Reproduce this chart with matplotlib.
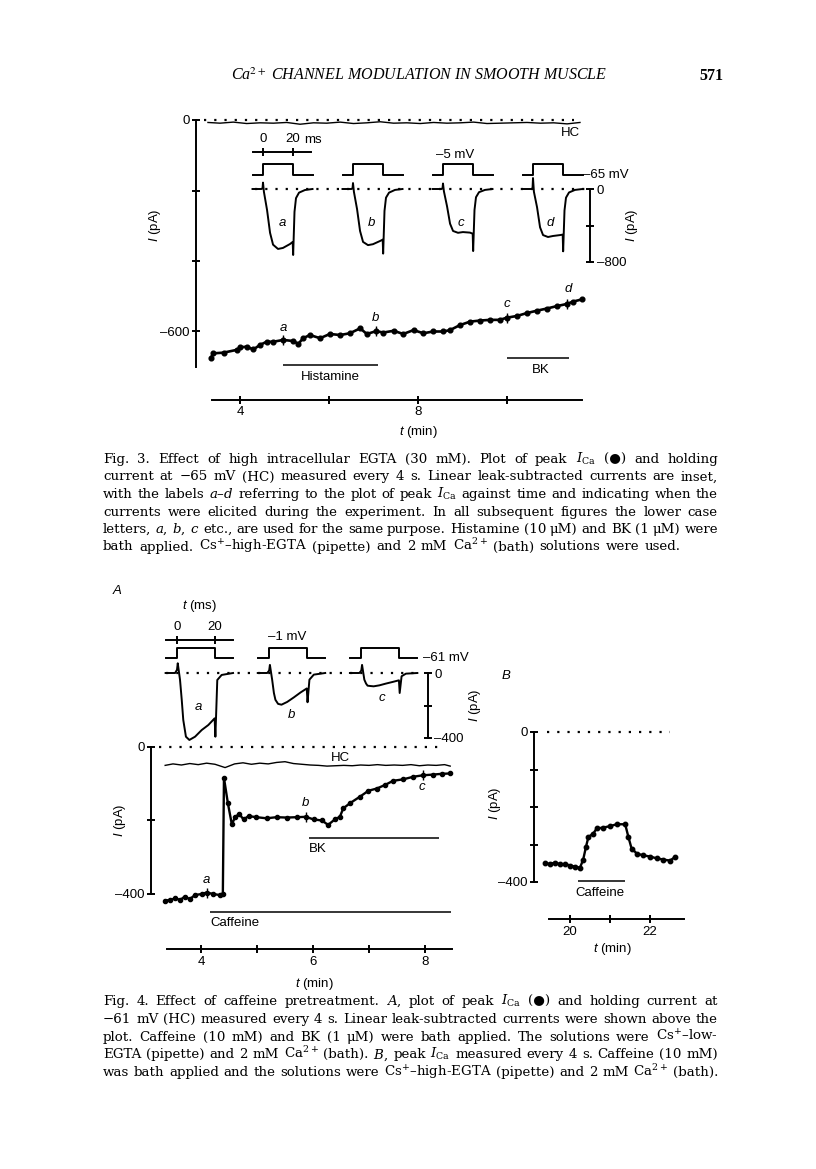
import matplotlib
matplotlib.use("Agg")
import matplotlib.pyplot as plt

W, H = 816, 1169
plt.rcParams['font.family'] = ['Liberation Sans', 'DejaVu Sans']
plt.rcParams['mathtext.fontset'] = 'custom'
plt.rcParams['mathtext.rm'] = 'Liberation Sans'
plt.rcParams['mathtext.it'] = 'Liberation Sans:italic'
plt.rcParams['mathtext.bf'] = 'Liberation Sans:bold'

# ---------------- Fig. 3 data ----------------
# peak I_Ca (pA) against time (min)
f3_t = [3.34, 3.40, 3.63, 3.93, 4.00, 4.15, 4.30, 4.45, 4.60, 4.75, 4.97, 5.20, 5.31, 5.42, 5.57,
        5.80, 6.02, 6.25, 6.47, 6.70, 6.85, 7.06, 7.22, 7.45, 7.67, 7.90, 8.12, 8.34, 8.57, 8.72,
        8.94, 9.17, 9.39, 9.62, 9.84, 9.99, 10.22, 10.44, 10.67, 10.89, 11.12, 11.34, 11.49, 11.68]
f3_ica = [-676, -662, -660, -652, -645, -643, -651, -638, -629, -629, -624, -627, -635, -619, -610,
          -619, -607, -610, -605, -591, -607, -599, -603, -598, -607, -596, -605, -600, -600, -596,
          -582, -572, -569, -567, -567, -561, -556, -548, -541, -535, -528, -522, -515, -509]
f3_letter_idx = [10, 21, 35, 41]
f3_letters = ['a', 'b', 'c', 'd']
# holding current at -65 mV
f3_hc_t = [3.28, 3.55, 3.85, 4.15, 4.45, 4.75, 5.05, 5.35, 5.65, 5.95, 6.25, 6.55, 6.85, 7.15, 7.45,
           7.75, 8.05, 8.35, 8.65, 8.95, 9.25, 9.55, 9.85, 10.15, 10.45, 10.75, 11.05, 11.35, 11.64]
f3_hc = [-7, -9, -6, -10, -8, -9, -7, -12, -8, -9, -6, -10, -8, -5, -9,
         -8, -10, -7, -9, -8, -6, -10, -9, -8, -7, -9, -8, -11, -7]
f3_histamine = (4.97, 7.10)
f3_bk = (10.0, 11.40)

# inset current traces (ms, pA)
f3_ms = [-7, -1, -0.3, 0, 0.6, 2.7, 4.7, 6.7, 10, 13.3, 18, 19.8, 20.1, 21, 22, 24, 28, 33]
f3_trace = {
    'a': [0, 0, 10, 70, -30, -230, -480, -610, -657, -646, -603, -580, -723, -250, -100, -40, -11, 0],
    'b': [0, 0, 10, 65, -30, -220, -460, -580, -615, -605, -570, -555, -708, -240, -95, -40, -10, 0],
    'c': [0, 0, 10, 60, -25, -190, -380, -460, -480, -472, -478, -490, -680, -230, -90, -35, -10, 0],
    'd': [0, 0, 10, 120, -30, -200, -420, -505, -526, -515, -505, -500, -683, -235, -95, -38, -10, 0],
}
f3_offsets = [0, 60, 120, 180]
f3_step_ms = [-7, 0, 0, 20, 20, 33]
f3_step_mv = [-65, -65, -5, -5, -65, -65]

# ---------------- Fig. 4A data ----------------
f4_t = [3.36, 3.45, 3.54, 3.63, 3.71, 3.80, 3.89, 4.01, 4.10, 4.22, 4.34, 4.39, 4.41, 4.48, 4.55,
        4.61, 4.68, 4.76, 4.85, 4.99, 5.17, 5.35, 5.53, 5.71, 5.87, 6.01, 6.16, 6.27, 6.39, 6.48,
        6.54, 6.66, 6.84, 6.99, 7.14, 7.29, 7.43, 7.61, 7.79, 7.96, 8.15, 8.30, 8.45]
f4_ica = [-418, -416, -412, -416, -407, -414, -403, -400, -396, -400, -403, -400, -84, -153, -210,
          -191, -182, -197, -188, -191, -194, -191, -192, -191, -190, -197, -200, -212, -197, -190,
          -167, -153, -135, -119, -113, -103, -92, -88, -81, -77, -75, -73, -72]
f4_letter_idx = [8, 24, 39]
f4_letters = ['a', 'b', 'c']
f4_hc_t = [3.36, 3.5, 3.65, 3.8, 3.95, 4.1, 4.25, 4.43, 4.6, 4.75, 4.9, 5.05, 5.2, 5.35, 5.5,
           5.65, 5.8, 5.95, 6.1, 6.25, 6.4, 6.55, 6.7, 6.85, 7.0, 7.15, 7.3, 7.45, 7.6, 7.75,
           7.9, 8.05, 8.2, 8.35, 8.45]
f4_hc = [-50, -46, -49, -45, -48, -44, -47, -56, -46, -43, -47, -44, -46, -42, -40,
         -45, -47, -49, -50, -52, -51, -50, -51, -49, -50, -48, -50, -49, -50, -48,
         -51, -49, -50, -48, -52]
f4_caffeine = (4.16, 8.46)
f4_bk = (5.93, 8.25)

f4_ms = [-6, -1, 0, 0.4, 1.6, 2.5, 3.3, 4.7, 6.5, 9.5, 13, 16.5, 19.8, 20.2, 21.2, 23.5, 29.5]
f4_trace = {
    'a': [0, 0, 20, 60, -43, -166, -289, -392, -412, -392, -351, -320, -279, -392, -43, -12, 0],
    'b': [0, 0, 15, 50, -43, -123, -165, -190, -195, -178, -150, -120, -95, -180, -41, -10, 0],
    'c': [0, 0, 15, 50, -41, -65, -78, -80, -82, -76, -65, -55, -45, -123, -20, -4, 0],
}
f4_offsets = [0, 48.5, 97]
f4_step_ms = [-6, 0, 0, 20, 20, 29.5]
f4_step_mv = [-61, -61, -1, -1, -61, -61]

# ---------------- Fig. 4B data ----------------
f4b_t = [19.38, 19.50, 19.63, 19.75, 19.88, 20.00, 20.13, 20.25, 20.33, 20.40, 20.46, 20.58, 20.67,
         20.83, 21.00, 21.17, 21.38, 21.46, 21.54, 21.67, 21.83, 22.00, 22.17, 22.33, 22.50, 22.63]
f4b_ica = [-350, -352, -348, -353, -352, -356, -359, -362, -340, -306, -280, -271, -257,
           -255, -251, -246, -246, -280, -311, -324, -329, -332, -337, -340, -343, -333]
f4b_caffeine = (20.2, 21.38)

# ---------------- captions ----------------
cap3 = [
    r"Fig. 3. Effect of high intracellular EGTA (30 mM). Plot of peak $I_{\mathrm{Ca}}$ (●) and holding",
    r"current at −65 mV (HC) measured every 4 s. Linear leak-subtracted currents are inset,",
    r"with the labels $a$–$d$ referring to the plot of peak $I_{\mathrm{Ca}}$ against time and indicating when the",
    r"currents were elicited during the experiment. In all subsequent figures the lower case",
    r"letters, $a$, $b$, $c$ etc., are used for the same purpose. Histamine (10 μM) and BK (1 μM) were",
    r"bath applied. Cs$^{+}$–high-EGTA (pipette) and 2 mM Ca$^{2+}$ (bath) solutions were used.",
]
cap4 = [
    r"Fig. 4. Effect of caffeine pretreatment. $A$, plot of peak $I_{\mathrm{Ca}}$ (●) and holding current at",
    r"−61 mV (HC) measured every 4 s. Linear leak-subtracted currents were shown above the",
    r"plot. Caffeine (10 mM) and BK (1 μM) were bath applied. The solutions were Cs$^{+}$–low-",
    r"EGTA (pipette) and 2 mM Ca$^{2+}$ (bath). $B$, peak $I_{\mathrm{Ca}}$ measured every 4 s. Caffeine (10 mM)",
    r"was bath applied and the solutions were Cs$^{+}$–high-EGTA (pipette) and 2 mM Ca$^{2+}$ (bath).",
]

fig = plt.figure(figsize=(W / 100, H / 100), dpi=100)
fig.patch.set_facecolor('white')

LW = 1.4
FS = 9.5
TICK = dict(direction='inout', length=5.5, width=LW, labelsize=FS, pad=2)


def mapped_axes(xpx, xref, xs, ypx, yref, ys, xlim, ylim):
    # axes whose data coords map linearly onto page pixels
    left = xpx + (xlim[0] - xref) * xs
    right = xpx + (xlim[1] - xref) * xs
    top = ypx - (ylim[1] - yref) * ys
    bottom = ypx - (ylim[0] - yref) * ys
    ax = fig.add_axes([left / W, 1 - bottom / H, (right - left) / W, (bottom - top) / H])
    ax.set_xlim(xlim)
    ax.set_ylim(ylim)
    ax.patch.set_visible(False)
    for s in ax.spines.values():
        s.set_visible(False)
        s.set_linewidth(LW)
    ax.set_xticks([])
    ax.set_yticks([])
    return ax


def yaxis_bar(ax, side, xpos, bounds, ticks, labels):
    sp = ax.spines[side]
    sp.set_visible(True)
    sp.set_position(('data', xpos))
    sp.set_bounds(*bounds)
    ax.yaxis.set_ticks_position(side)
    ax.set_yticks(ticks)
    ax.set_yticklabels(labels)
    ax.tick_params(axis='y', **TICK)


def xaxis_bar(ax, side, ypos, bounds, ticks, labels):
    sp = ax.spines[side]
    sp.set_visible(True)
    sp.set_position(('data', ypos))
    sp.set_bounds(*bounds)
    ax.xaxis.set_ticks_position(side)
    ax.set_xticks(ticks)
    ax.set_xticklabels(labels)
    ax.tick_params(axis='x', **TICK)


def ftext(x, y, s, **kw):
    kw.setdefault('fontsize', FS)
    kw.setdefault('ha', 'center')
    kw.setdefault('va', 'center')
    kw.setdefault('math_fontfamily', 'custom')
    return fig.text(x / W, 1 - y / H, s, **kw)


def ylabel(x, y):
    ftext(x, y, r"$I$ (pA)", rotation=90)


DOTS = (0, (1, 3.6))

# ================= Fig. 3 =================
ax3 = mapped_axes(240, 4, 44.5, 120, 0, 0.3525, (2.9, 11.9), (-810, 20))
ax3.plot(f3_t, f3_ica, color='black', lw=1.9, marker='o', ms=3.4)
ax3.plot([f3_t[i] for i in f3_letter_idx], [f3_ica[i] for i in f3_letter_idx],
         ls='none', marker='|', ms=7, mew=1, color='black')
ax3.plot(f3_hc_t, f3_hc, color='black', lw=1.0)
ax3.plot([3.2, 11.5], [0, 0], color='black', lw=1.6, ls=DOTS)
ax3.hlines(-695, *f3_histamine, color='black', lw=1.1)
ax3.hlines(-675, *f3_bk, color='black', lw=1.1)
yaxis_bar(ax3, 'left', 3.011, (-700, 0), [0, -200, -400, -600], ['0', '', '', '–600'])
xaxis_bar(ax3, 'bottom', -794, (3.37, 11.69), [4, 6, 8, 10], ['4', '', '8', ''])

ylabel(155, 225)
ftext(418, 432, r"$t$ (min)")
ftext(570, 133, "HC")
ftext(330, 377, "Histamine")
ftext(541, 370, "BK")
for (x, y), s in zip([(283, 328), (376, 318), (507, 304), (568, 289)], f3_letters):
    ftext(x, y, s, style='italic')

# inset traces
ax3i = mapped_axes(263, 0, 1.5, 189, 0, 0.09125, (-12, 235), (-880, 150))
for off, k in zip(f3_offsets, f3_letters):
    ax3i.plot([m + off for m in f3_ms], f3_trace[k], color='black', lw=LW)
ax3i.plot([-5.3, 215], [0, 0], color='black', lw=1.6, ls=DOTS)
yaxis_bar(ax3i, 'right', 218, (-800, 0), [0, -400, -800], ['0', '', '–800'])
ylabel(632, 225)
for x, s in zip([282, 371, 461, 550], f3_letters):
    ftext(x, 223, s, style='italic')

ax3v = mapped_axes(263, 0, 1.5, 175, -65, 11 / 60, (-12, 235), (-70, 75))
for off in f3_offsets:
    ax3v.plot([m + off for m in f3_step_ms], f3_step_mv, color='black', lw=LW)
xaxis_bar(ax3v, 'top', 60.5, (-6.7, 32), [0, 20], ['0', '20'])
ftext(304, 140, "ms", ha='left')
ftext(455, 155, "–5 mV")
ftext(583, 175, "–65 mV", ha='left')

# ================= Fig. 4A =================
ax4 = mapped_axes(201, 4, 56, 747, 0, 0.3675, (3.0, 8.6), (-565, 15))
ax4.plot(f4_t, f4_ica, color='black', lw=1.7, marker='o', ms=3)
ax4.plot([f4_t[i] for i in f4_letter_idx], [f4_ica[i] for i in f4_letter_idx],
         ls='none', marker='|', ms=7, mew=1, color='black')
ax4.plot(f4_hc_t, f4_hc, color='black', lw=1.0)
ax4.plot([3.25, 8.3], [0, 0], color='black', lw=1.6, ls=DOTS)
ax4.hlines(-449, *f4_caffeine, color='black', lw=1.1)
ax4.hlines(-248, *f4_bk, color='black', lw=1.1)
yaxis_bar(ax4, 'left', 3.107, (-400, 0), [0, -200, -400], ['0', '', '–400'])
xaxis_bar(ax4, 'bottom', -550, (3.39, 8.48), [4, 5, 6, 7, 8], ['4', '', '6', '', '8'])

ylabel(120, 820)
ftext(314, 984, r"$t$ (min)")
ftext(340, 758, "HC")
ftext(309, 849, "BK", ha='left')
ftext(210, 923, "Caffeine", ha='left')
for (x, y), s in zip([(206, 880), (305, 803), (422, 787)], f4_letters):
    ftext(x, y, s, style='italic')
ftext(117, 591, "A", style='italic')

ax4i = mapped_axes(177, 0, 1.9, 673, 0, 0.1625, (-10, 160), (-440, 80))
for off, k in zip(f4_offsets, f4_letters):
    ax4i.plot([m + off for m in f4_ms], f4_trace[k], color='black', lw=LW)
ax4i.plot([-5.8, 128], [0, 0], color='black', lw=1.6, ls=DOTS)
yaxis_bar(ax4i, 'right', 132, (-400, 0), [0, -200, -400], ['0', '', '–400'])
ylabel(475, 705)
for (x, y), s in zip([(198, 707), (292, 715), (382, 698)], f4_letters):
    ftext(x, y, s, style='italic')

ax4v = mapped_axes(177, 0, 1.9, 658, -61, 1 / 6, (-10, 160), (-66, 60))
for off in f4_offsets:
    ax4v.plot([m + off for m in f4_step_ms], f4_step_mv, color='black', lw=LW)
xaxis_bar(ax4v, 'top', 47, (-5.8, 29.5), [0, 20], ['0', '20'])
ftext(200, 606, r"$t$ (ms)")
ftext(287, 637, "–1 mV")
ftext(423, 658, "–61 mV", ha='left')

# ================= Fig. 4B =================
ax4b = mapped_axes(570, 20, 40, 732, 0, 0.375, (19.0, 23.0), (-510, 15))
ax4b.plot(f4b_t, f4b_ica, color='black', lw=1.7, marker='o', ms=3.2)
ax4b.plot([19.42, 22.5], [0, 0], color='black', lw=1.6, ls=DOTS)
ax4b.hlines(-397, *f4b_caffeine, color='black', lw=1.1)
yaxis_bar(ax4b, 'left', 19.1, (-400, 0), [0, -100, -200, -300, -400], ['0', '', '', '', '–400'])
xaxis_bar(ax4b, 'bottom', -499, (19.48, 22.85), [20, 21, 22], ['20', '', '22'])
ylabel(495, 803)
ftext(600, 893, "Caffeine")
ftext(612, 949, r"$t$ (min)")
ftext(506, 676, "B", style='italic')

# ================= page text =================
ftext(419, 76, r"Ca$^{2+}$ CHANNEL MODULATION IN SMOOTH MUSCLE", family='Liberation Serif',
      style='italic', fontsize=11.5, math_fontfamily='stix')
ftext(711, 76, "571", family='Liberation Serif', fontsize=11.5, weight='bold')

CAP = dict(family=['DejaVu Serif', 'DejaVu Sans'], fontsize=9.6, math_fontfamily='dejavuserif',
           ha='left', va='baseline')
renderer = fig.canvas.get_renderer()


def justify(lines, x0, x1, y0, dy, ragged_last):
    for i, line in enumerate(lines):
        words = line.split(' ')
        y = y0 + i * dy
        objs = [fig.text(0, 1 - y / H, w, **CAP) for w in words]
        widths = [o.get_window_extent(renderer).width for o in objs]
        if ragged_last and i == len(lines) - 1:
            gap = 5.5
        else:
            gap = (x1 - x0 - sum(widths)) / (len(words) - 1)
        x = x0
        for o, w in zip(objs, widths):
            o.set_x(x / W)
            x += w + gap


justify(cap3, 103, 718, 463, 17.5, True)
justify(cap4, 103, 718, 1005, 17.8, False)

fig.savefig('out.png', dpi=100, facecolor='white')
